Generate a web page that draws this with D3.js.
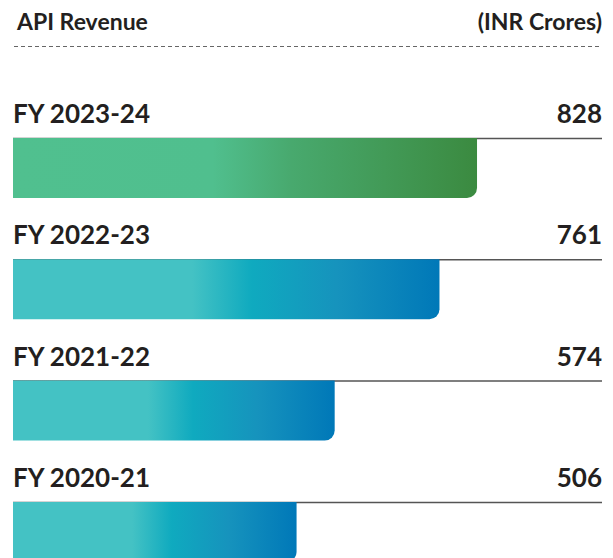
<!DOCTYPE html>
<html>
<head>
<meta charset="utf-8">
<script src="https://cdn.jsdelivr.net/npm/d3@7"></script>
<style>
  body { margin: 0; background: #fff; }
  text { font-family: Lato, "Open Sans", sans-serif; font-weight: bold; fill: #231f20; }
</style>
</head>
<body>
<svg id="chart"></svg>
<script>
const years = ['FY 2023-24', 'FY 2022-23', 'FY 2021-22', 'FY 2020-21'];
const revenue = [828, 761, 574, 506];
const palettes = ['green', 'teal', 'teal', 'teal'];

const width = 613;
const height = 558;
const left = 13;
const right = 602;

const svg = d3.select('svg#chart')
  .attr('width', width)
  .attr('height', height);

// gradients
const defs = svg.append('defs');
const gradStops = {
  green: [[0, '#50c08f'], [0.43, '#50bf8e'], [0.6, '#48a96e'], [0.8, '#429a57'], [1, '#3b8a40']],
  teal: [[0, '#44c2c4'], [0.42, '#44c2c4'], [0.56, '#0faabf'], [0.76, '#1693bd'], [1, '#0078b8']]
};
Object.keys(gradStops).forEach(k => {
  const g = defs.append('linearGradient').attr('id', 'grad-' + k)
    .attr('x1', '0%').attr('x2', '100%').attr('y1', '0%').attr('y2', '0%');
  gradStops[k].forEach(s => g.append('stop').attr('offset', s[0]).attr('stop-color', s[1]));
});

// header
svg.append('text').attr('x', 17).attr('y', 30).attr('font-size', '23px').text('API Revenue');
svg.append('text').attr('x', right).attr('y', 30).attr('font-size', '23px')
  .attr('text-anchor', 'end').text('(INR Crores)');
svg.append('line')
  .attr('x1', 14).attr('x2', right).attr('y1', 46.5).attr('y2', 46.5)
  .attr('stroke', '#666').attr('stroke-width', 1).attr('stroke-dasharray', '4,3');

const x = d3.scaleLinear().domain([0, 1051]).range([left, right]);
const y = d3.scaleBand().domain(years).range([138, 138 + 121.3 * 4]);
const barH = 60;
const r = 10;

const rows = svg.selectAll('g.row')
  .data(years.map((d, i) => ({year: d, value: revenue[i], pal: palettes[i]})))
  .join('g')
  .attr('class', 'row')
  .attr('transform', d => 'translate(0,' + y(d.year) + ')');

rows.append('line')
  .attr('x1', left).attr('x2', right).attr('y1', 0.5).attr('y2', 0.5)
  .attr('stroke', '#555').attr('stroke-width', 1.5);

rows.append('path')
  .attr('fill', d => 'url(#grad-' + d.pal + ')')
  .attr('d', d => {
    const x0 = x(0), x1 = x(d.value);
    return 'M' + x0 + ',0H' + x1 + 'V' + (barH - r) +
      'A' + r + ',' + r + ' 0 0 1 ' + (x1 - r) + ',' + barH + 'H' + x0 + 'Z';
  });

rows.append('text')
  .attr('x', left).attr('y', -15)
  .attr('font-size', '26px')
  .text(d => d.year);

rows.append('text')
  .attr('x', right).attr('y', -15)
  .attr('font-size', '26px')
  .attr('text-anchor', 'end')
  .text(d => d.value);
</script>
</body>
</html>
